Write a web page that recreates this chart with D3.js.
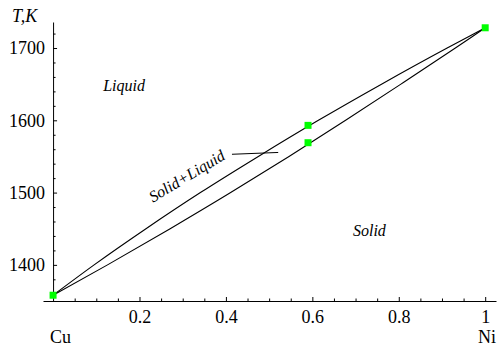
<!DOCTYPE html>
<html>
<head>
<meta charset="utf-8">
<script src="https://cdn.jsdelivr.net/npm/d3@7"></script>
</head>
<body style="margin:0">
<svg id="chart" width="502" height="352"></svg>
<script>
// Cu-Ni phase diagram: liquidus and solidus, mole fraction of Ni vs temperature
const temperatures = [1358, 1400, 1450, 1500, 1550, 1600, 1650, 1700, 1715, 1728];
const liquidusX    = [0, 0.095, 0.215, 0.341, 0.475, 0.614, 0.760, 0.912, 0.959, 1];
const solidusX     = [0, 0.126, 0.271, 0.411, 0.546, 0.677, 0.805, 0.931, 0.968, 1];

// highlighted states: pure Cu, tie line ends at x = 0.59, pure Ni
const markerX = [0, 0.59, 0.59, 1];
const markerT = [1358, 1593, 1569, 1728];

const xMajor = [0.2, 0.4, 0.6, 0.8, 1];
const xMajorLabels = ["0.2", "0.4", "0.6", "0.8", "1"];
const yMajor = [1400, 1500, 1600, 1700];
const yMajorLabels = ["1400", "1500", "1600", "1700"];

const FONT = "Liberation Serif, Times New Roman, serif";

const svg = d3.select("#chart");

const x = d3.scaleLinear().domain([-0.0233, 1.025]).range([43, 496]);
const y = d3.scaleLinear().domain([1350, 1736]).range([301, 22]);

const x0 = x(0), y0 = y(1350);

// axes: ticks point into the plot
const xMinor = d3.range(1, 21).map(i => i * 0.05).filter(v => !xMajor.some(m => Math.abs(m - v) < 1e-9));
const yMinor = d3.range(1360, 1736, 20).filter(v => !yMajor.includes(v));

const axisX = svg.append("g").attr("transform", `translate(0,${y0})`);
axisX.call(d3.axisBottom(x).tickValues(xMajor).tickFormat((d, i) => xMajorLabels[i]).tickSizeInner(-4).tickSizeOuter(0).tickPadding(9));
const axisXMinor = svg.append("g").attr("transform", `translate(0,${y0})`);
axisXMinor.call(d3.axisBottom(x).tickValues(xMinor).tickFormat("").tickSizeInner(-2.5).tickSizeOuter(0));

const axisY = svg.append("g").attr("transform", `translate(${x0},0)`);
axisY.call(d3.axisLeft(y).tickValues(yMajor).tickFormat((d, i) => yMajorLabels[i]).tickSizeInner(-4).tickSizeOuter(0).tickPadding(8));
const axisYMinor = svg.append("g").attr("transform", `translate(${x0},0)`);
axisYMinor.call(d3.axisLeft(y).tickValues(yMinor).tickFormat("").tickSizeInner(-2.5).tickSizeOuter(0));

svg.selectAll("g").attr("font-family", FONT).attr("font-size", 18);
svg.selectAll(".domain").attr("stroke", "#000").attr("stroke-width", 1);
svg.selectAll(".tick line").attr("stroke", "#000").attr("stroke-width", 1);
svg.selectAll(".tick text").attr("fill", "#000").attr("font-family", FONT).attr("font-size", 18);
axisX.selectAll(".tick text").attr("dy", "0.71em");
axisXMinor.selectAll(".domain").remove();
axisYMinor.selectAll(".domain").remove();

function label(px, py, str, size, italic) {
  const t = svg.append("text").attr("x", px).attr("y", py)
    .attr("font-family", FONT).attr("font-size", size).attr("fill", "#000").text(str);
  if (italic) t.attr("font-style", "italic");
  return t;
}

// axis captions
label(12, 22, "T,K", 18, true);
label(50, 343, "Cu", 18, false);
label(478, 343, "Ni", 18, false);

// liquidus and solidus curves
const line = d3.line().x(d => x(d[0])).y(d => y(d[1])).curve(d3.curveMonotoneX);
const liquidus = liquidusX.map((v, i) => [v, temperatures[i]]);
const solidus = solidusX.map((v, i) => [v, temperatures[i]]);

svg.append("path").datum(liquidus).attr("d", line).attr("fill", "none").attr("stroke", "#000").attr("stroke-width", 1.1);
svg.append("path").datum(solidus).attr("d", line).attr("fill", "none").attr("stroke", "#000").attr("stroke-width", 1.1);

// phase region labels
label(x(0.116), y(1641), "Liquid", 16, true);
label(x(0.694), y(1440), "Solid", 16, true);
label(0, 0, "Solid+Liquid", 16, true)
  .attr("x", null).attr("y", null)
  .attr("transform", `translate(${x(0.231)},${y(1486)}) rotate(-31)`);
svg.append("line")
  .attr("x1", x(0.414)).attr("y1", y(1553)).attr("x2", x(0.521)).attr("y2", y(1555.5))
  .attr("stroke", "#000").attr("stroke-width", 1);

// markers
const s = 7;
svg.selectAll("rect.marker").data(markerX.map((v, i) => [v, markerT[i]])).enter().append("rect")
  .attr("class", "marker")
  .attr("x", d => x(d[0]) - s / 2).attr("y", d => y(d[1]) - s / 2)
  .attr("width", s).attr("height", s).attr("fill", "#00ff00");
</script>
</body>
</html>
